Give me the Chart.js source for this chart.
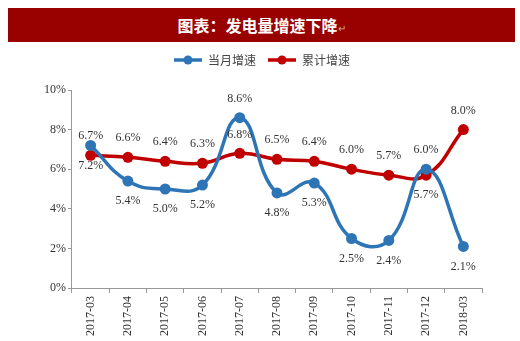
<!DOCTYPE html>
<html>
<head>
<meta charset="utf-8">
<script src="https://cdn.jsdelivr.net/npm/chart.js@4"></script>
<style>
    body { margin: 0; background: #fff; width: 520px; height: 341px; overflow: hidden; position: relative; }
    .banner {
        position: absolute; left: 8px; top: 8px; width: 507px; height: 34px;
        background: #990000; color: #fff; text-align: center;
        font: bold 16px "Noto Sans CJK SC", sans-serif; line-height: 34px;
    }
    .banner .mark { color: #d9a0a0; font-size: 10px; font-weight: normal; }
    .wrap { position: absolute; left: 0; top: 42px; width: 520px; height: 299px; }
</style>
</head>
<body>
<div class="banner">图表：发电量增速下降<span class="mark">↵</span></div>
<div class="wrap"><canvas id="chart"></canvas></div>
<script>
const months = ['2017-03', '2017-04', '2017-05', '2017-06', '2017-07', '2017-08', '2017-09', '2017-10', '2017-11', '2017-12', '2018-03'];
const monthlyGrowth = [7.2, 5.4, 5.0, 5.2, 8.6, 4.8, 5.3, 2.5, 2.4, 6.0, 2.1];
const cumulativeGrowth = [6.7, 6.6, 6.4, 6.3, 6.8, 6.5, 6.4, 6.0, 5.7, 5.7, 8.0];
const yTicks = [0, 2, 4, 6, 8, 10];

// where each value label sits relative to its point
const monthlyLabelPos = ['below', 'below', 'below', 'below', 'above', 'below', 'below', 'below', 'below', 'above', 'below'];
const cumulativeLabelPos = ['above', 'above', 'above', 'above', 'above', 'above', 'above', 'above', 'above', 'below', 'above'];

const BLUE = '#2e75b6';
const RED = '#c00000';

function legendIcon(color) {
    const c = document.createElement('canvas');
    c.width = 28;
    c.height = 10;
    const g = c.getContext('2d');
    g.strokeStyle = color;
    g.lineWidth = 3.5;
    g.beginPath();
    g.moveTo(0, 5);
    g.lineTo(28, 5);
    g.stroke();
    g.fillStyle = color;
    g.beginPath();
    g.arc(14, 5, 4.5, 0, Math.PI * 2);
    g.fill();
    return c;
}

// leave a gap between the legend and the plot
const legendGap = {
    id: 'legendGap',
    beforeInit(chart) {
        const fit = chart.legend.fit;
        chart.legend.fit = function () {
            fit.call(this);
            this.height += 14;
        };
    }
};

const valueLabels = {
    id: 'valueLabels',
    afterDatasetsDraw(chart) {
        const ctx = chart.ctx;
        ctx.save();
        ctx.font = '12px "Liberation Serif", serif';
        ctx.fillStyle = '#333';
        ctx.textAlign = 'center';
        ctx.textBaseline = 'middle';
        chart.data.datasets.forEach((ds, i) => {
            const meta = chart.getDatasetMeta(i);
            meta.data.forEach((pt, j) => {
                const dy = ds.labelPos[j] === 'above' ? -19 : 20;
                ctx.fillText(ds.data[j].toFixed(1) + '%', pt.x, pt.y + dy);
            });
        });
        ctx.restore();
    }
};

new Chart(document.getElementById('chart'), {
    type: 'line',
    data: {
        labels: months,
        datasets: [{
            label: '当月增速',
            data: monthlyGrowth,
            labelPos: monthlyLabelPos,
            borderColor: BLUE,
            backgroundColor: BLUE,
            borderWidth: 3.5,
            tension: 0.45,
            pointRadius: 5.5,
            pointHoverRadius: 5.5,
            pointBorderWidth: 0
        }, {
            label: '累计增速',
            data: cumulativeGrowth,
            labelPos: cumulativeLabelPos,
            borderColor: RED,
            backgroundColor: RED,
            borderWidth: 3.5,
            tension: 0.45,
            pointRadius: 5.5,
            pointHoverRadius: 5.5,
            pointBorderWidth: 0
        }]
    },
    options: {
        responsive: true,
        maintainAspectRatio: false,
        animation: false,
        layout: { padding: { top: 0, left: 42, right: 38, bottom: 2 } },
        plugins: {
            legend: {
                position: 'top',
                labels: {
                    usePointStyle: true,
                    pointStyleWidth: 28,
                    color: '#444',
                    font: { family: '"Noto Sans CJK SC", sans-serif', size: 12 },
                    padding: 12,
                    generateLabels(chart) {
                        return chart.data.datasets.map((ds, i) => ({
                            text: ds.label,
                            pointStyle: legendIcon(ds.borderColor),
                            fontColor: '#444',
                            datasetIndex: i,
                            hidden: false
                        }));
                    }
                }
            },
            tooltip: { enabled: false }
        },
        scales: {
            x: {
                offset: true,
                grid: {
                    offset: true,
                    drawOnChartArea: false,
                    color: '#999',
                    tickLength: 5
                },
                border: { color: '#999' },
                ticks: {
                    color: '#333',
                    minRotation: 90,
                    maxRotation: 90,
                    font: { family: '"Liberation Serif", serif', size: 12 }
                }
            },
            y: {
                min: 0,
                max: 10,
                afterBuildTicks(axis) {
                    axis.ticks = yTicks.map(v => ({ value: v }));
                },
                grid: {
                    drawOnChartArea: false,
                    color: '#999',
                    tickLength: 4
                },
                border: { color: '#999' },
                ticks: {
                    color: '#333',
                    padding: 2,
                    font: { family: '"Liberation Serif", serif', size: 12 },
                    callback: v => v + '%'
                }
            }
        }
    },
    plugins: [legendGap, valueLabels]
});
</script>
</body>
</html>
